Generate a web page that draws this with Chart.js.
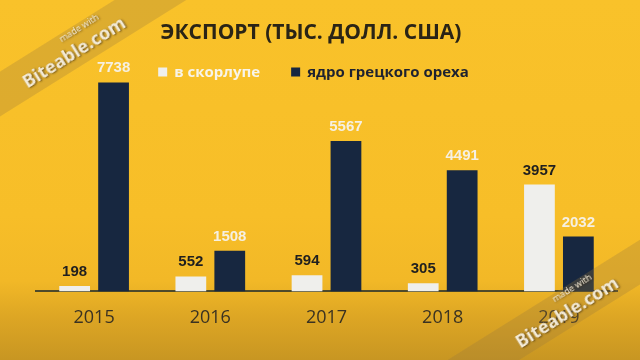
<!DOCTYPE html>
<html><head><meta charset="utf-8">
<script src="https://cdn.jsdelivr.net/npm/chart.js@4"></script>
<style>
html,body{margin:0;padding:0;width:640px;height:360px;overflow:hidden;}
body{position:relative;background:linear-gradient(to bottom,#F9C22A 0%,#F7BE28 60%,#F2B827 78%,#DDA624 88%,#C89622 100%);}
#wrap{position:absolute;left:0;top:0;width:640px;height:360px;}
.wm{position:absolute;width:300px;height:38px;background:rgba(150,118,58,0.28);transform:rotate(-32deg);transform-origin:center center;font-family:"Noto Sans",sans-serif;color:#f3ead6;text-align:center;text-shadow:1px 1px 2px rgba(60,40,10,0.7);}
.wm .s{position:absolute;left:0;right:0;top:-1px;font-size:9px;line-height:11px;padding-left:34px;}
.wm .b{position:absolute;left:0;right:0;top:10px;font-size:18px;font-weight:bold;line-height:24px;}
</style></head><body>
<div id="wrap"><canvas id="c" width="640" height="360"></canvas></div>
<div class="wm" style="left:-78px;top:30px;"><div class="s">made with</div><div class="b">Biteable.com</div></div>
<div class="wm" style="left:415px;top:290px;"><div class="s">made with</div><div class="b">Biteable.com</div></div>
<script>
const categories = ['2015', '2016', '2017', '2018', '2019'];
const inShellValues = [198, 552, 594, 305, 3957];
const kernelValues = [7738, 1508, 5567, 4491, 2032];
const seriesNames = ['в скорлупе', 'ядро грецкого ореха'];
const chartTitle = 'ЭКСПОРТ (ТЫС. ДОЛЛ. США)';
const yAxisMax = 8970;

const barColors = ['#EFEFEC', '#172740'];
const valueLabelColors = ['#1f1f1f', '#F6F0E2'];
const legendTextColors = ['#F8F4EA', '#1E2230'];

const valueLabels = {
  id: 'valueLabels',
  afterDatasetsDraw(chart) {
    const ctx = chart.ctx;
    ctx.save();
    ctx.font = 'bold 15px "Liberation Sans", Arial, sans-serif';
    ctx.textAlign = 'center';
    ctx.textBaseline = 'alphabetic';
    chart.data.datasets.forEach((ds, di) => {
      const meta = chart.getDatasetMeta(di);
      meta.data.forEach((bar, i) => {
        ctx.fillStyle = valueLabelColors[di];
        ctx.fillText(String(ds.data[i]), bar.x, bar.y - 10);
      });
    });
    ctx.restore();
  }
};

const customLegend = {
  id: 'customLegend',
  afterDraw(chart) {
    const ctx = chart.ctx;
    ctx.save();
    ctx.font = 'bold 15px "Open Sans", sans-serif';
    ctx.textBaseline = 'middle';
    const box = 9, gapText = 7, gapItem = 31, cy = 72, cx = 313.5;
    const widths = chart.data.datasets.map(ds => box + gapText + ctx.measureText(ds.label).width);
    const total = widths.reduce((a, b) => a + b, 0) + gapItem * (widths.length - 1);
    let x = cx - total / 2;
    chart.data.datasets.forEach((ds, di) => {
      ctx.fillStyle = ds.backgroundColor;
      ctx.fillRect(x, cy - box / 2, box, box);
      ctx.fillStyle = legendTextColors[di];
      ctx.fillText(ds.label, x + box + gapText, cy + 1);
      x += widths[di] + gapItem;
    });
    ctx.restore();
  }
};

new Chart(document.getElementById('c'), {
  type: 'bar',
  data: {
    labels: categories,
    datasets: [
      { label: seriesNames[0], data: inShellValues, backgroundColor: barColors[0], borderWidth: 0 },
      { label: seriesNames[1], data: kernelValues, backgroundColor: barColors[1], borderWidth: 0 }
    ]
  },
  options: {
    responsive: false,
    devicePixelRatio: 1,
    animation: false,
    categoryPercentage: 0.67,
    barPercentage: 0.79,
    layout: { padding: { left: 5, right: 23, top: 0, bottom: 15 } },
    plugins: {
      legend: { display: false },
      tooltip: { enabled: false },
      title: {
        display: true,
        text: chartTitle,
        color: '#2A2416',
        font: { family: '"Open Sans", sans-serif', size: 21, weight: 'bold' },
        padding: { top: 20, bottom: 4 }
      }
    },
    scales: {
      x: {
        grid: { display: false, drawTicks: false },
        border: { display: true, color: '#4E4A2A', width: 2 },
        ticks: { color: '#3A3222', font: { family: '"Open Sans", sans-serif', size: 18 }, padding: 16 }
      },
      y: {
        display: true,
        min: 0,
        max: yAxisMax,
        grid: { display: false, drawTicks: false },
        border: { display: false },
        ticks: { display: false },
        afterFit(scale) { scale.width = 31; }
      }
    }
  },
  plugins: [valueLabels, customLegend]
});
</script>
</body></html>
